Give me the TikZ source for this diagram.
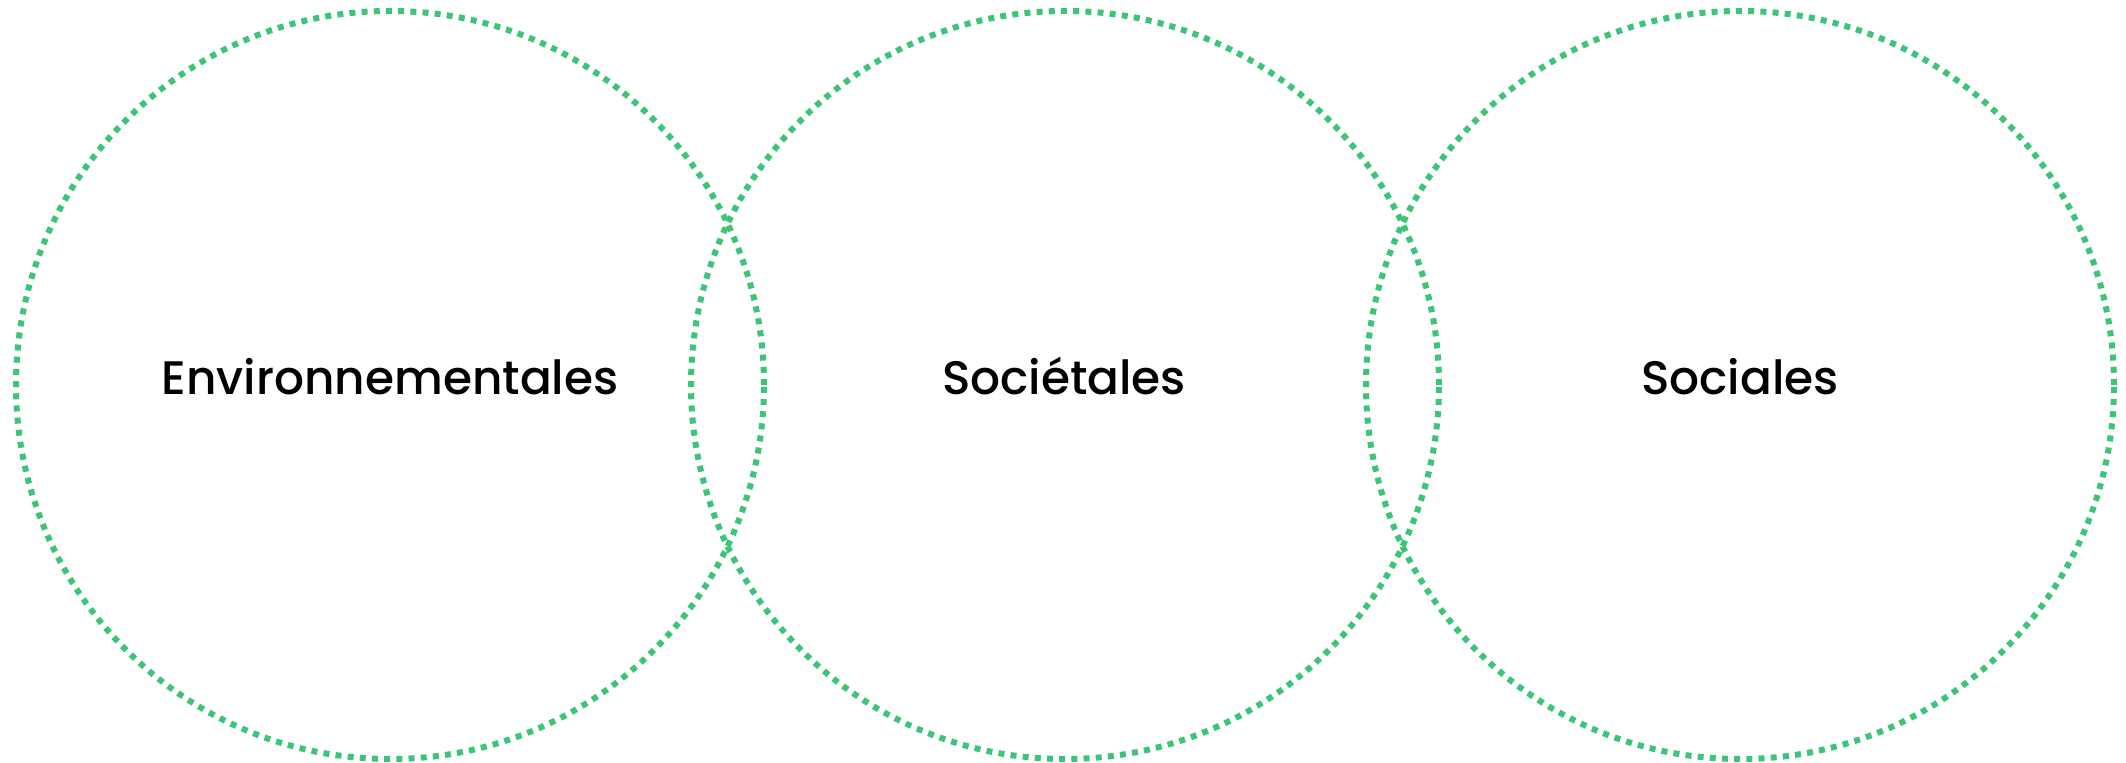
\documentclass[tikz,border=0pt]{standalone}
\usepackage{fontspec}
\setmainfont{Poppins Medium}
\definecolor{vertpois}{RGB}{60,196,120}
\tikzset{
  cercle/.style={draw=vertpois,line width=3pt,dash pattern=on 3pt off 3.1pt},
  titre/.style={font=\fontsize{23.5}{28}\selectfont,anchor=base,inner sep=0pt}
}
\begin{document}
\begin{tikzpicture}[x=0.5pt,y=0.5pt]
  \useasboundingbox (0,0) rectangle (2126,763);
  \draw[cercle] (390,378) circle [radius=187pt];
  \draw[cercle] (1065,378) circle [radius=187pt];
  \draw[cercle] (1740,378) circle [radius=187pt];
  \node[titre] (env) at (390,368) {Environnementales};
  \node[titre] (soc) at (1064,368) {Sociétales};
  \node[titre] (sol) at (1740,368) {Sociales};
\end{tikzpicture}
\end{document}
